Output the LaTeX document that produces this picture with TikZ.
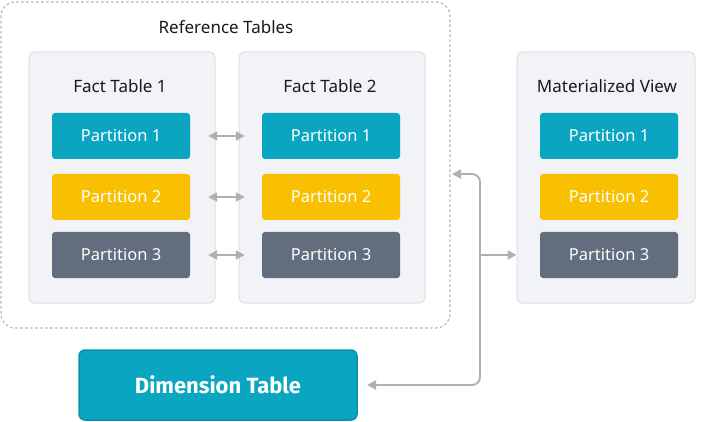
\documentclass[tikz,border=0pt]{standalone}
\usepackage{fontspec}
\setmainfont{Noto Sans}
\newfontfamily\dimfont{Fira Sans}
\usetikzlibrary{arrows.meta}
\definecolor{teal}{HTML}{0AA6C1}
\definecolor{tealdark}{HTML}{0890A8}
\definecolor{amber}{HTML}{F8C000}
\definecolor{slate}{HTML}{626D7E}
\definecolor{panelfill}{HTML}{F2F3F6}
\definecolor{panelline}{HTML}{DCDEE3}
\definecolor{linkgray}{HTML}{B0B0B0}
\definecolor{framegray}{HTML}{B5B5B5}
\tikzset{
  panel/.style={draw=panelline,fill=panelfill,line width=1pt,rounded corners=5pt,minimum height=251pt},
  part/.style={rounded corners=3pt,minimum width=138pt,minimum height=46pt,text=white,font=\fontsize{16.5}{19}\selectfont},
  title/.style={font=\fontsize{17}{20}\selectfont,text=black!90},
  link/.style={draw=linkgray,line width=1.9pt,arrows={Triangle[length=9pt,width=9pt]-Triangle[length=9pt,width=9pt]}},
}
\begin{document}
\begin{tikzpicture}[x=1pt,y=-1pt]
				\useasboundingbox (0,0) rectangle (704,422);
				\draw[framegray,line width=1.2pt,dash pattern=on 2.5pt off 2.5pt,rounded corners=14pt] (1,2) rectangle (450,328);
				\node[title] (reftitle) at (226,27) {Reference Tables};
				\node[panel,minimum width=186pt] (fact1) at (122,177.5) {};
				\node[panel,minimum width=186pt] (fact2) at (332,177.5) {};
				\node[panel,minimum width=178pt] (view) at (606,177.5) {};
				\node[title] (fact1title) at (120,86) {Fact Table 1};
				\node[title] (fact2title) at (330,86) {Fact Table 2};
				\node[title] (viewtitle) at (607,86) {Materialized View};
				\node[part,fill=teal] (f1p1) at (121,136) {Partition 1};
				\node[part,fill=amber] (f1p2) at (121,197) {Partition 2};
				\node[part,fill=slate] (f1p3) at (121,255) {Partition 3};
				\node[part,fill=teal] (f2p1) at (331,136) {Partition 1};
				\node[part,fill=amber] (f2p2) at (331,197) {Partition 2};
				\node[part,fill=slate] (f2p3) at (331,255) {Partition 3};
				\node[part,fill=teal] (vp1) at (609,136) {Partition 1};
				\node[part,fill=amber] (vp2) at (609,197) {Partition 2};
				\node[part,fill=slate] (vp3) at (609,255) {Partition 3};
				\node[draw=tealdark,fill=teal,line width=1.5pt,rounded corners=6pt,minimum width=278pt,minimum height=70pt,text=white,font=\dimfont\bfseries\fontsize{22}{26}\selectfont] (dim) at (218,385) {Dimension Table};
				\coordinate (refin) at (452,174);
				\coordinate (hub) at (480,255);
				\coordinate (dimin) at (367,385);
				\draw[link,shorten <=18pt,shorten >=17pt] (f1p1.east) -- (f2p1.west);
				\draw[link,shorten <=18pt,shorten >=17pt] (f1p2.east) -- (f2p2.west);
				\draw[link,shorten <=18pt,shorten >=17pt] (f1p3.east) -- (f2p3.west);
				\draw[link,rounded corners=8pt] (refin) -| (hub) |- (dimin);
				\draw[link,arrows={-Triangle[length=9pt,width=9pt]}] (hub) -- (view.west |- hub);
\end{tikzpicture}
\end{document}
